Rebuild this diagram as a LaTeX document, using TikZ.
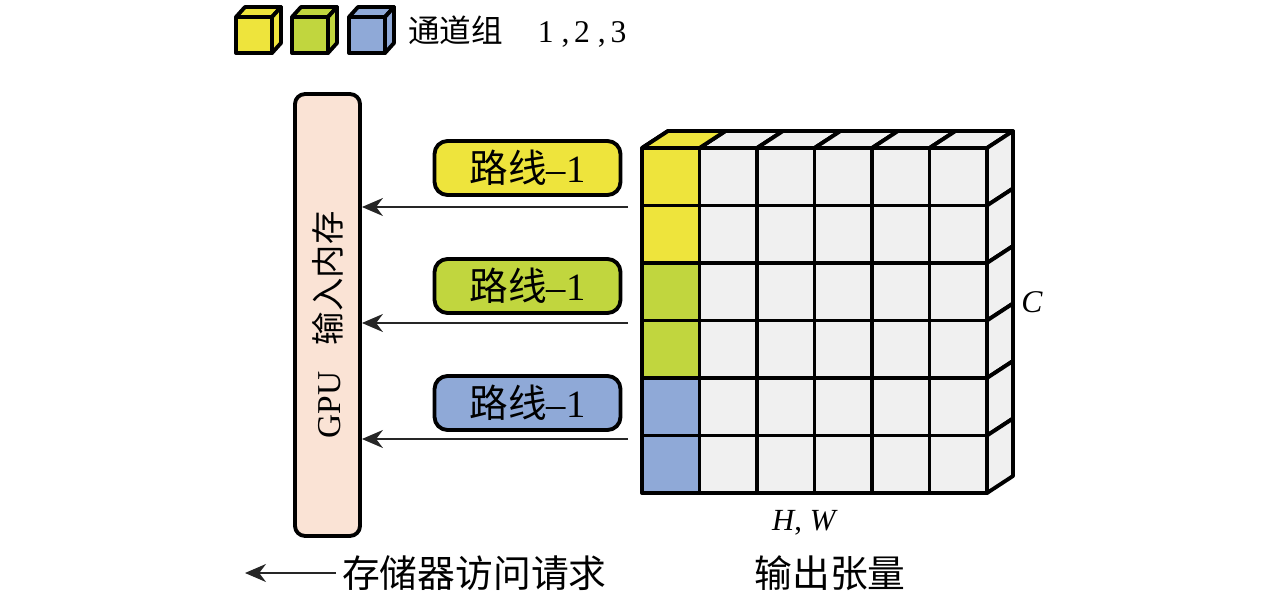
\documentclass[tikz,border=0pt]{standalone}
\usepackage{fontspec}
\usepackage{graphicx}
\setmainfont{Liberation Serif}
\newfontfamily\cjk{Noto Sans CJK SC}
\usetikzlibrary{arrows.meta}
\definecolor{chY}{HTML}{EEE43C}
\definecolor{chG}{HTML}{C1D63E}
\definecolor{chB}{HTML}{8FA9D7}
\definecolor{memfill}{HTML}{FAE3D5}
\definecolor{cellgray}{HTML}{F0F0F0}
\newcommand{\lbl}{\fontsize{18}{22}\selectfont}
\newcommand{\biglbl}{\fontsize{21.5}{25}\selectfont}
\tikzset{
	edge/.style={draw=black, line width=2.2pt, line join=round},
	route/.style={edge, rounded corners=0.26cm, minimum width=3.72cm, minimum height=1.08cm, inner sep=0pt, font=\fontsize{22}{26}\selectfont},
	mem/.style={edge, fill=memfill, rounded corners=0.2cm, minimum width=1.3cm, minimum height=8.84cm, inner sep=0pt, font=\fontsize{19}{23}\selectfont},
	req/.style={-{Stealth[length=0.42cm, width=0.36cm]}, line width=1.1pt, draw=black!85}
}
\begin{document}
\begin{tikzpicture}[x=0.02cm, y=-0.02cm]
		\useasboundingbox (0,0) rectangle (1276,598);
		\def\cs{57.5}
		\def\cube#1#2{
			\draw[edge, fill=#2] (#1,17) rectangle ++(36,36);
			\draw[edge, fill=#2] (#1,17) -- ++(9,-10) -- ++(36,0) -- ++(-9,10) -- cycle;
			\draw[edge, fill=#2] (#1+36,17) -- ++(9,-10) -- ++(0,36) -- ++(-9,10) -- cycle;}
		% legend
		\cube{236}{chY}
		\cube{292}{chG}
		\cube{349}{chB}
		\node[anchor=west, font=\lbl] (legend) at (402,32) {{\cjk 通道组}\hspace{1.1em}1\hspace{0.25em},\hspace{0.15em}2\hspace{0.25em},\hspace{0.15em}3};
		% memory and routes
		\node[mem] (mem) at (327.5,315) {\rotatebox{90}{GPU\hspace{0.8em}{\cjk 输入内存}\hspace{0.4cm}}};
		\node[route, fill=chY] (r1) at (527.5,168) {{\cjk 路线}–1};
		\node[route, fill=chG] (r2) at (527.5,286) {{\cjk 路线}–1};
		\node[route, fill=chB] (r3) at (527.5,403) {{\cjk 路线}–1};
		\coordinate (a1) at (628,207);
		\coordinate (a2) at (628,323);
		\coordinate (a3) at (628,439);
		\draw[req] (a1) -- (a1 -| mem.east);
		\draw[req] (a2) -- (a2 -| mem.east);
		\draw[req] (a3) -- (a3 -| mem.east);
		% output tensor
		\foreach \c in {0,...,5}
			\draw[edge, fill=cellgray] (642+\c*\cs,148) -- ++(26,-17) -- ++(\cs,0) -- ++(-26,17) -- cycle;
		\draw[edge, fill=chY] (642,148) -- ++(26,-17) -- ++(\cs,0) -- ++(-26,17) -- cycle;
		\foreach \r in {0,...,5}
			\draw[edge, fill=cellgray] (987,148+\r*\cs) -- ++(26,-17) -- ++(0,\cs) -- ++(-26,17) -- cycle;
		\fill[cellgray] (642,148) rectangle (987,493);
		\foreach \r/\col in {0/chY,1/chY,2/chG,3/chG,4/chB,5/chB}
			\fill[\col] (642,148+\r*\cs) rectangle ++(\cs,\cs);
		\foreach \i in {1,...,5} {
			\draw[edge] (642+\i*\cs,148) -- ++(0,345);
			\draw[edge] (642,148+\i*\cs) -- ++(345,0);
		}
		\draw[edge] (642,148) rectangle (987,493);
		\node[font=\lbl] (cl) at (1032,302) {\textit{C}};
		\node[font=\fontsize{17.5}{20}\selectfont] (hw) at (805,523) {\textit{H}, \textit{W}};
		\node[font=\biglbl] (out) at (830,573) {\cjk 输出张量};
		% access request key
		\node[anchor=west, font=\biglbl] (reqtxt) at (336,573) {\cjk 存储器访问请求};
		\coordinate (rs) at (245,573);
		\draw[req] (reqtxt.west) -- (rs);
	\end{tikzpicture}
\end{document}
